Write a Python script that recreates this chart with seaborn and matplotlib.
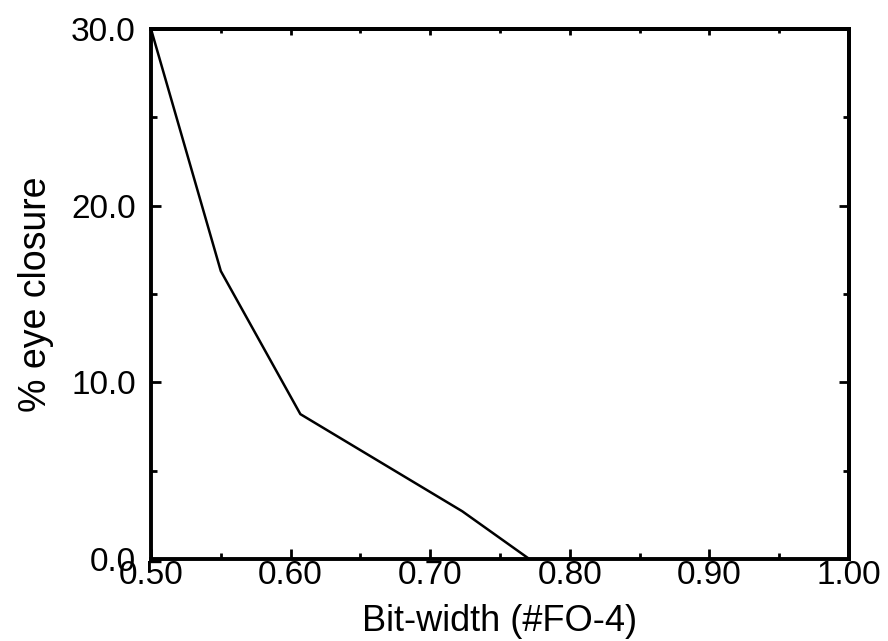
import matplotlib
matplotlib.use("Agg")
import matplotlib.pyplot as plt
import seaborn as sns
import pandas as pd
from matplotlib.ticker import MultipleLocator, FormatStrFormatter

# Eye closure versus bit-width
bit_width = [0.500, 0.550, 0.607, 0.723, 0.771]
eye_closure = [30.0, 16.3, 8.2, 2.7, 0.0]

x_ticks = [0.50, 0.60, 0.70, 0.80, 0.90, 1.00]
y_ticks = [0.0, 10.0, 20.0, 30.0]

sns.set_style("ticks")
plt.rcParams["font.family"] = ["Liberation Sans", "DejaVu Sans"]
plt.rcParams["text.color"] = "black"
plt.rcParams["axes.labelcolor"] = "black"

df = pd.DataFrame({"bit_width": bit_width, "eye_closure": eye_closure})

W, H = 888, 641
fig = plt.figure(figsize=(W / 100, H / 100), dpi=100)
left, right, top, bottom = 151, 849, 29, 559
ax = fig.add_axes([left / W, 1 - bottom / H, (right - left) / W, (bottom - top) / H])

sns.lineplot(data=df, x="bit_width", y="eye_closure", ax=ax,
             color="black", linewidth=1.8, sort=False)

ax.set_xlim(0.5, 1.0)
ax.set_ylim(0.0, 30.0)
ax.set_xticks(x_ticks)
ax.set_yticks(y_ticks)
ax.xaxis.set_minor_locator(MultipleLocator(0.05))
ax.yaxis.set_minor_locator(MultipleLocator(5.0))
ax.xaxis.set_major_formatter(FormatStrFormatter("%.2f"))
ax.yaxis.set_major_formatter(FormatStrFormatter("%.1f"))

for s in ax.spines.values():
    s.set_linewidth(2.8)
    s.set_color("black")

ax.tick_params(axis="both", which="major", direction="in", length=7.2, width=2.0,
               labelsize=24, colors="black")
ax.tick_params(axis="both", which="minor", direction="in", length=4.3, width=2.0,
               colors="black")
ax.tick_params(axis="x", which="major", pad=1)
ax.tick_params(axis="y", which="major", pad=11)

# top axis ticks (shorter), right axis ticks
top_ax = ax.secondary_xaxis("top")
top_ax.set_xticks(x_ticks)
top_ax.xaxis.set_minor_locator(MultipleLocator(0.05))
top_ax.tick_params(which="major", direction="in", length=4.3, width=2.0,
                   labeltop=False, colors="black")
top_ax.tick_params(which="minor", direction="in", length=2.9, width=2.0, colors="black")
top_ax.spines["top"].set_linewidth(2.8)
top_ax.spines["top"].set_color("black")

right_ax = ax.secondary_yaxis("right")
right_ax.set_yticks(y_ticks)
right_ax.yaxis.set_minor_locator(MultipleLocator(5.0))
right_ax.tick_params(which="major", direction="in", length=7.2, width=2.0,
                     labelright=False, colors="black")
right_ax.tick_params(which="minor", direction="in", length=4.3, width=2.0, colors="black")
right_ax.spines["right"].set_linewidth(2.8)
right_ax.spines["right"].set_color("black")

ax.set_xlabel("Bit-width (#FO-4)", fontsize=26, labelpad=9, color="black")
ax.set_ylabel("% eye closure", fontsize=27, labelpad=12, color="black")

fig.savefig("out.png", dpi=100, facecolor="white")
